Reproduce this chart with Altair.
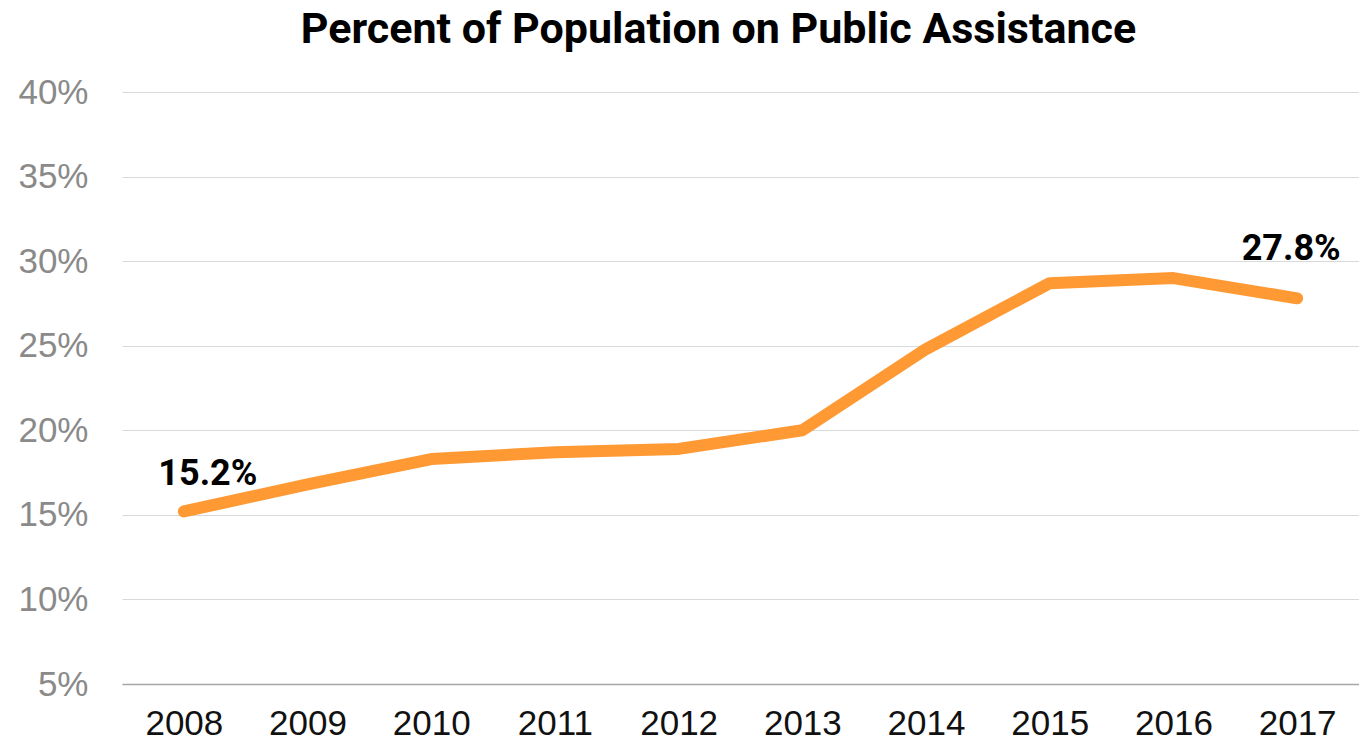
import altair as alt
import pandas as pd

years = ["2008", "2009", "2010", "2011", "2012", "2013", "2014", "2015", "2016", "2017"]
values = [15.2, 16.8, 18.3, 18.7, 18.9, 20.0, 24.8, 28.7, 29.0, 27.8]
first_label = "15.2%"
last_label = "27.8%"

df = pd.DataFrame({"year": years, "value": values})
df["label"] = ""
df.loc[0, "label"] = first_label
df.loc[len(df) - 1, "label"] = last_label

x = alt.X("year:O", title=None, scale=alt.Scale(type="point", padding=0.5),
          axis=alt.Axis(labelAngle=0, labelFont="Liberation Sans", labelFontSize=35,
                        labelColor="#111111", ticks=False, domain=True, domainColor="#a6a6a6",
                        domainWidth=1.5, labelPadding=22, grid=False))
y = alt.Y("value:Q", title=None,
          scale=alt.Scale(domain=[5, 40], nice=False, zero=False),
          axis=alt.Axis(values=[5, 10, 15, 20, 25, 30, 35, 40], labelExpr="datum.value + '%'",
                        labelFont="Liberation Sans", labelFontSize=35, labelColor="#8a8a8a",
                        ticks=False, domain=False, labelPadding=34, grid=True,
                        gridColor="#d9d9d9", gridWidth=1))

base = alt.Chart(df)

line = base.mark_line(color="#ff9933", strokeWidth=12, strokeCap="round", strokeJoin="round").encode(x=x, y=y)

t1 = base.transform_filter(alt.datum.label == first_label).mark_text(
    font="Roboto", fontWeight="bold", fontSize=36, color="#000000", dx=24, dy=-37
).encode(x=x, y=y, text="label:N")

t2 = base.transform_filter(alt.datum.label == last_label).mark_text(
    font="Roboto", fontWeight="bold", fontSize=36, color="#000000", dx=-6, dy=-49
).encode(x=x, y=y, text="label:N")

chart = alt.layer(line, t1, t2).properties(
    width=1237, height=592,
    background="white",
    title=alt.TitleParams("Percent of Population on Public Assistance", font="Roboto",
                          fontWeight="bold", fontSize=43, color="#000000", anchor="middle",
                          dx=-22, offset=23),
    autosize=alt.AutoSizeParams(type="none"),
    padding={"left": 122, "top": 92, "right": 0, "bottom": 58},
).configure_view(stroke=None)

chart.save("out.html", embed_options={"renderer": "svg", "actions": False})
